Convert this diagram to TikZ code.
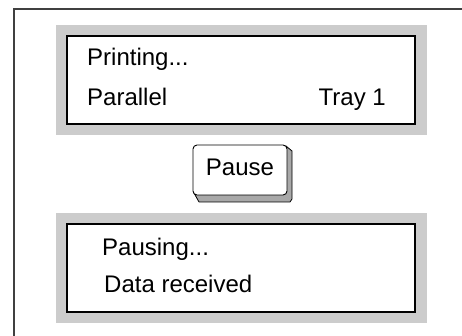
\documentclass[tikz,border=0pt]{standalone}
\usepackage{fontspec}
\setmainfont{Liberation Sans}
\definecolor{panelgray}{HTML}{CCCCCC}
\definecolor{keyside}{HTML}{A8A8A8}
\tikzset{
  frameline/.style={draw=black!75, line width=1.2pt},
  panel/.style={fill=panelgray},
  screen/.style={draw=black, line width=2.6pt, fill=white},
  lcd/.style={inner sep=0pt, font=\fontsize{24}{28}\selectfont},
  keyface/.style={draw=black, line width=0.9pt, fill=white, rounded corners=4pt},
  keyedge/.style={draw=black, line width=0.8pt, fill=keyside, line join=round}
}
\begin{document}
\begin{tikzpicture}[x=1pt,y=-1pt]
\useasboundingbox (0,0) rectangle (462,336);
% outer frame
\draw[frameline] (14,336) -- (14,9) -- (462,9);
% top panel
\fill[panel] (56,25) rectangle (427,135);
\draw[screen] (67,36) rectangle (415,124);
\node[lcd, anchor=base west] (printing) at (87,66) {Printing...};
\node[lcd, anchor=base west] (parallel) at (87,106) {Parallel};
\node[lcd, anchor=base east] (tray) at (386,106) {Tray 1};
% pause key
\draw[keyedge] (194,193) -- (199,202) -- (290,202) -- (292,199) -- (292,151) -- (286,146) -- cycle;
\draw[keyface] (193,145) rectangle (287,195);
\node[lcd, anchor=base] (pause) at (240,176) {Pause};
% bottom panel
\fill[panel] (56,213) rectangle (427,323);
\draw[screen] (67,224) rectangle (415,312);
\node[lcd, anchor=base west] (pausing) at (102,255) {Pausing...};
\node[lcd, anchor=base west] (data) at (104,292) {Data received};
\end{tikzpicture}
\end{document}
